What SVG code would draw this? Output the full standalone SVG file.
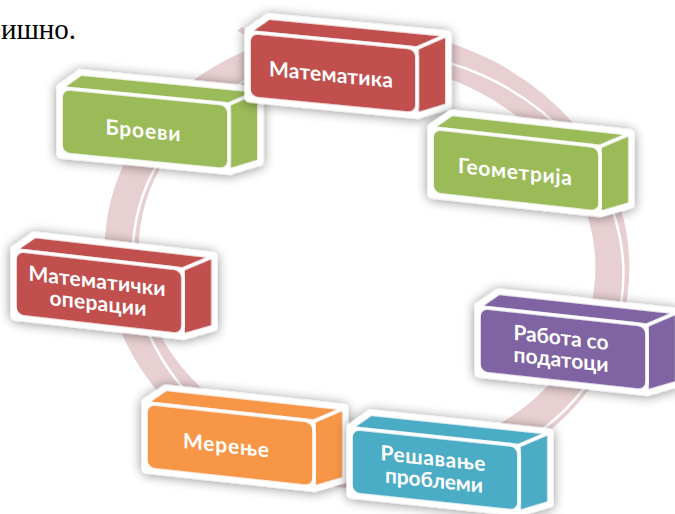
<svg xmlns="http://www.w3.org/2000/svg" xmlns:xlink="http://www.w3.org/1999/xlink" width="675" height="514" viewBox="0 0 675 514">
  <defs>
    <filter id="sh" x="-25%" y="-40%" width="150%" height="180%">
      <feGaussianBlur in="SourceAlpha" stdDeviation="6"/>
      <feOffset dx="0" dy="1"/>
      <feComponentTransfer><feFuncA type="linear" slope="0.45"/></feComponentTransfer>
      <feMerge><feMergeNode/><feMergeNode in="SourceGraphic"/></feMerge>
    </filter>
    <g id="box">
      <path d="M0,66 L0,0 L20,-16 L198,-16 L198,54 L168,66 Z" fill="#fff" stroke="#fff" stroke-width="9" stroke-linejoin="round"/>
      <polygon points="0,0 20,-16 198,-16 168,0" fill="currentColor" stroke="#fff" stroke-width="3.5" stroke-linejoin="round"/>
      <polygon points="168,0 198,-16 198,54 168,66" fill="currentColor" stroke="#fff" stroke-width="3.5" stroke-linejoin="round"/>
      <rect x="0" y="0" width="168" height="66" rx="9" fill="currentColor" stroke="#fff" stroke-width="3.5"/>
    </g>
  </defs>
  <style>
    .lbl { font-family: Lato, "Open Sans", "DejaVu Sans", sans-serif; font-weight: 700; font-size: 21px; fill: #fff; text-anchor: middle; }
    .ring { fill: none; stroke: #E8D0D2; stroke-width: 34; }
    .hl { fill: none; stroke: #fff; stroke-width: 2.5; }
    .red { color: #C0504D; }
    .green { color: #9BBB59; }
    .purple { color: #8064A2; }
    .teal { color: #4BACC6; }
    .orange { color: #F79646; }
  </style>

  <rect width="675" height="514" fill="#fff"/>

  <text x="76" y="39" font-family="'Liberation Serif', 'Times New Roman', serif" font-size="29" fill="#000" text-anchor="end">ишно.</text>

  <g id="connectors">
    <ellipse class="ring" cx="367" cy="259" rx="246" ry="213" transform="rotate(8 367 259)"/>
    <ellipse class="hl" cx="378" cy="265" rx="246" ry="213" transform="rotate(8 378 265)"/>
    <polygon points="236,31 242,26 248,31 245,36" fill="#E8D0D2" stroke="#fff" stroke-width="1.5"/>
  </g>

  <g id="node-broevi" transform="matrix(1,0.0963,0,1,61,88)">
    <use xlink:href="#box" href="#box" class="green" filter="url(#sh)"/>
    <text class="lbl" x="82" y="42" textLength="75">Броеви</text>
  </g>

  <g id="node-matematika" transform="matrix(1,0.0963,0,1,249,32)">
    <use xlink:href="#box" href="#box" class="red" filter="url(#sh)"/>
    <text class="lbl" x="82" y="42" textLength="124">Математика</text>
  </g>

  <g id="node-geometrija" transform="matrix(1,0.1104,0,1,432,128)">
    <use xlink:href="#box" href="#box" class="green" filter="url(#sh)"/>
    <text class="lbl" x="83" y="42" textLength="114">Геометрија</text>
  </g>

  <g id="node-rabota" transform="matrix(1,0.1086,0,1,479,307)">
    <use xlink:href="#box" href="#box" class="purple" filter="url(#sh)"/>
    <text class="lbl" x="82" y="29" textLength="95">Работа со</text>
    <text class="lbl" x="82" y="51" textLength="95">податоци</text>
  </g>

  <g id="node-matematicki" transform="matrix(1,0.1139,0,1,15,250)">
    <use xlink:href="#box" href="#box" class="red" filter="url(#sh)"/>
    <text class="lbl" x="82" y="29" textLength="137">Математички</text>
    <text class="lbl" x="83" y="51" textLength="97">операции</text>
  </g>

  <g id="node-merenje" transform="matrix(1,0.1086,0,1,146,403)">
    <use xlink:href="#box" href="#box" class="orange" filter="url(#sh)"/>
    <text class="lbl" x="80" y="41" textLength="86">Мерење</text>
  </g>

  <g id="node-resavanje" transform="matrix(1,0.1051,0,1,351,428)">
    <use xlink:href="#box" href="#box" class="teal" filter="url(#sh)"/>
    <text class="lbl" x="82" y="29" textLength="105">Решавање</text>
    <text class="lbl" x="83" y="51" textLength="98">проблеми</text>
  </g>
</svg>
